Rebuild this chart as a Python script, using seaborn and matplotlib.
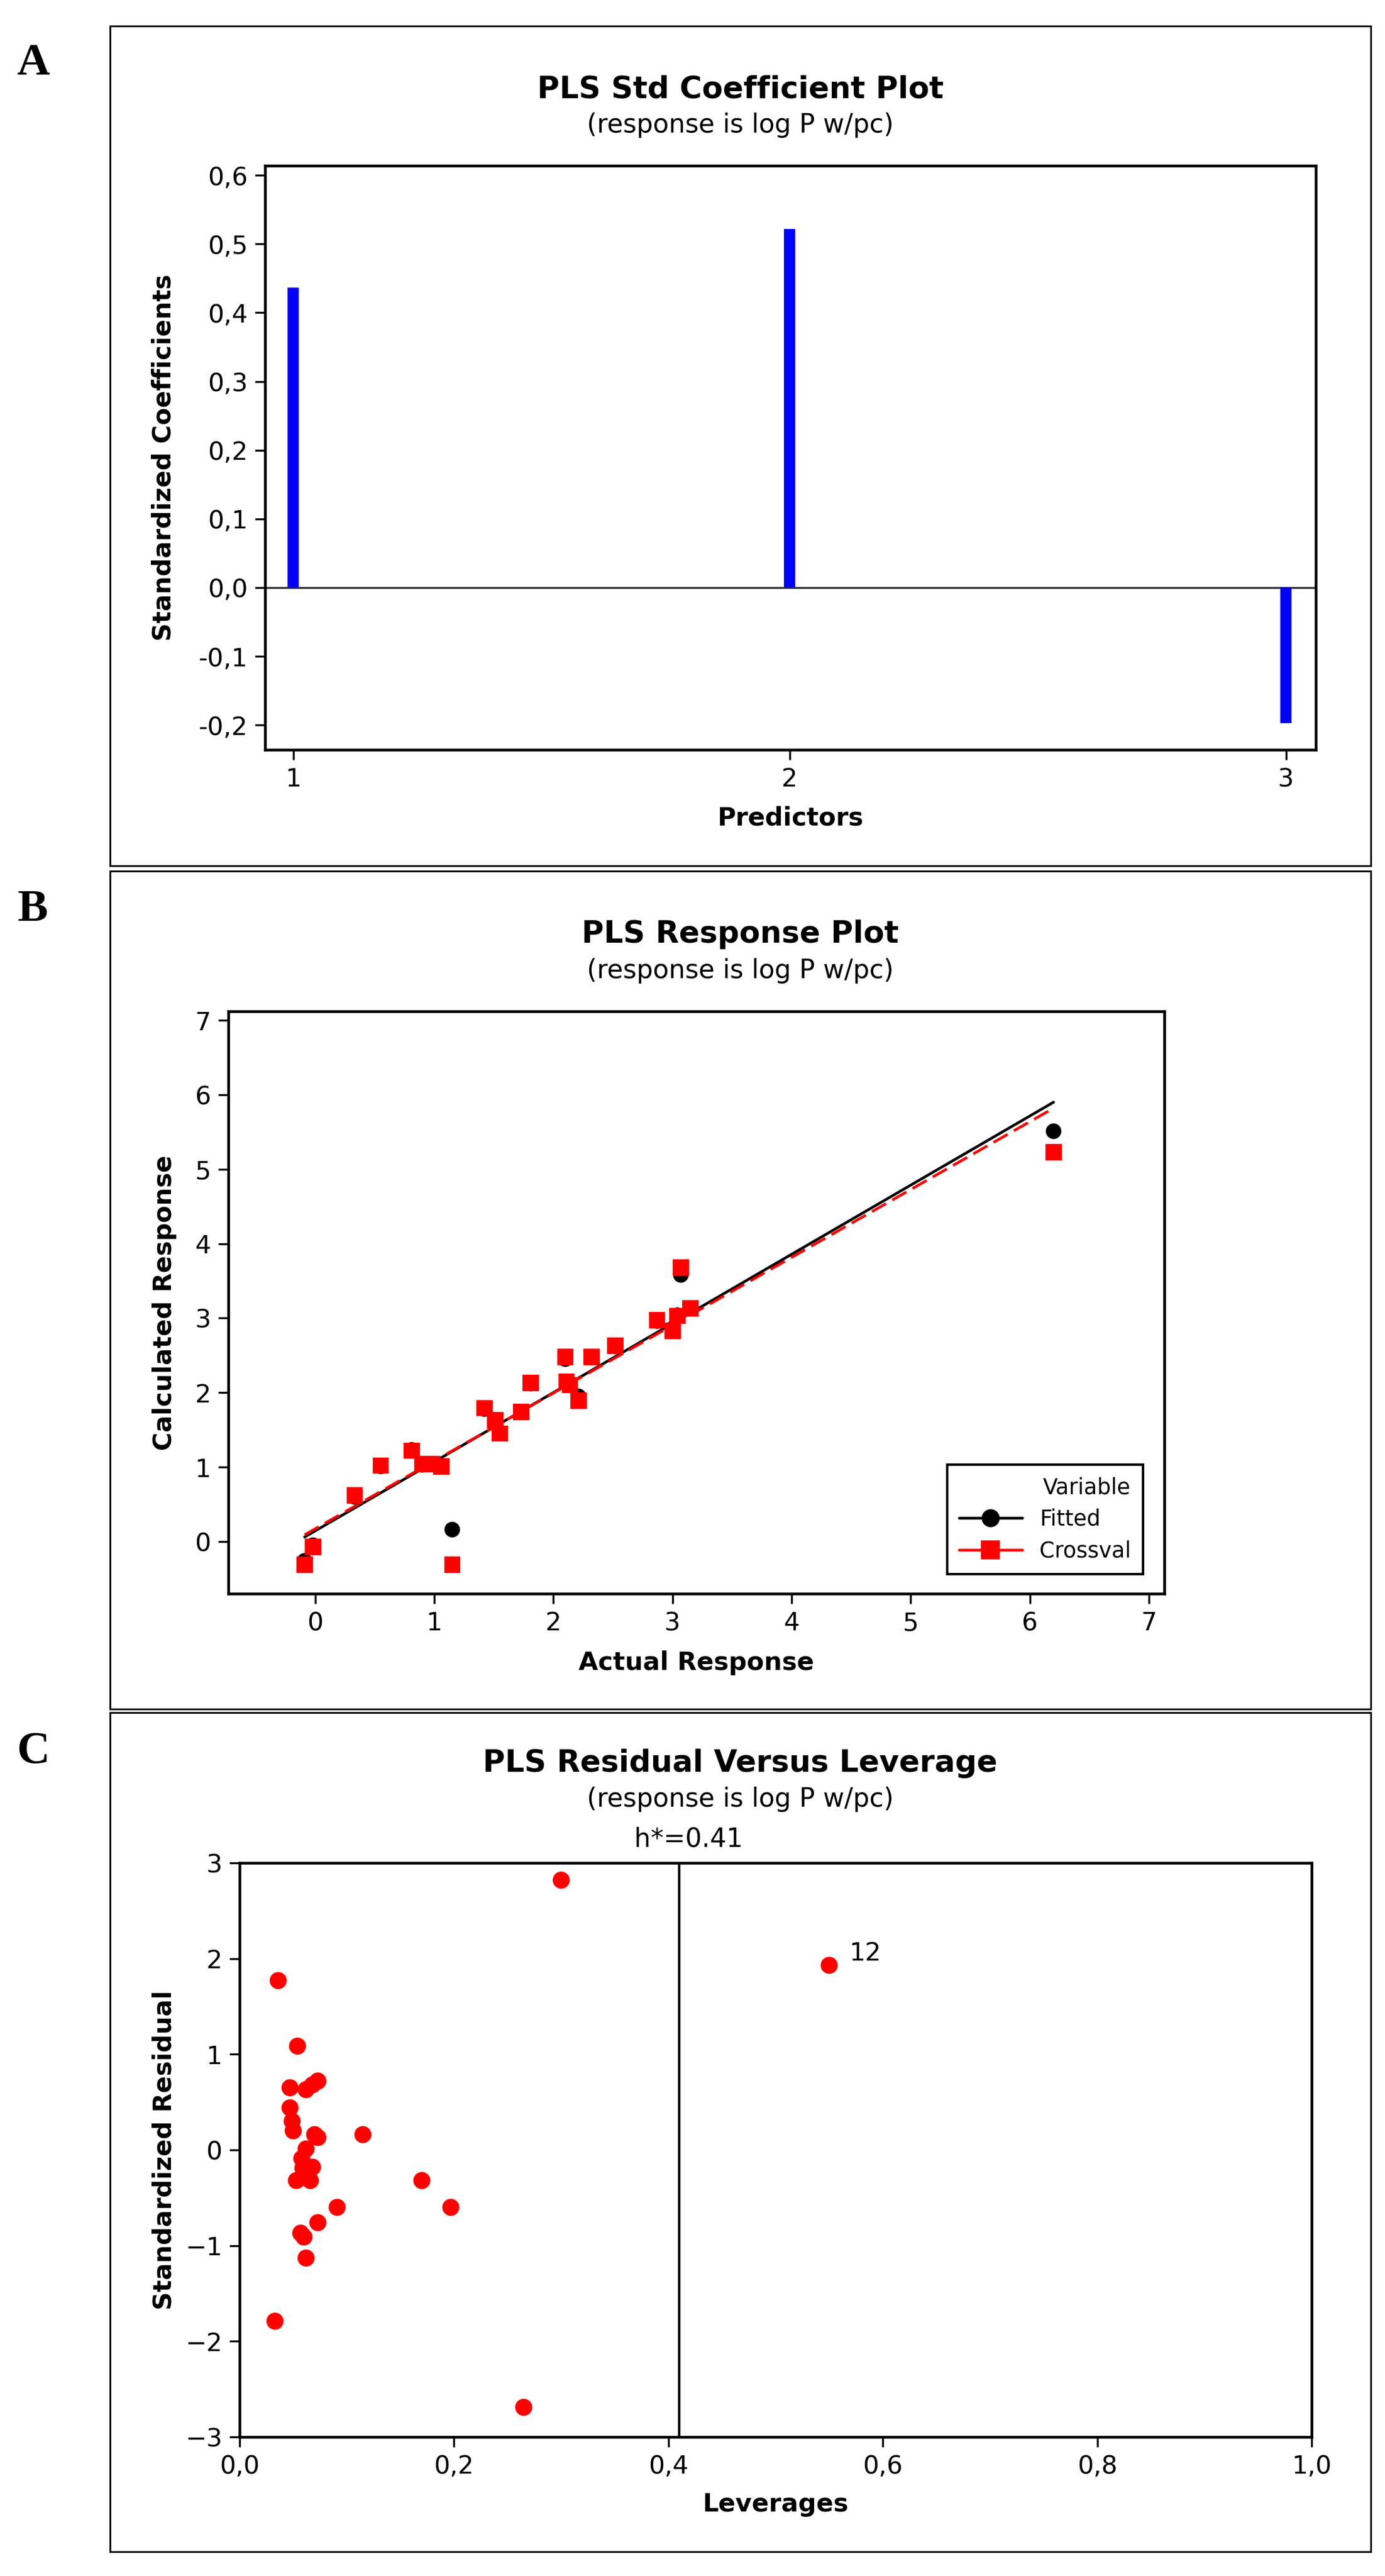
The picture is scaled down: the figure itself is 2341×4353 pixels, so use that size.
import seaborn as sns
import matplotlib.pyplot as plt
from matplotlib.lines import Line2D
from matplotlib.patches import Rectangle
from matplotlib.transforms import blended_transform_factory

# ---- panel A: PLS standardized coefficients
predictors = [1, 2, 3]
std_coefficients = [0.437, 0.522, -0.197]
coef_ticks = [-0.2, -0.1, 0.0, 0.1, 0.2, 0.3, 0.4, 0.5, 0.6]
coef_tick_labels = ["-0,2", "-0,1", "0,0", "0,1", "0,2", "0,3", "0,4", "0,5", "0,6"]

# ---- panel B: PLS response plot
actual_response = [-0.09, -0.02, 0.33, 0.55, 0.81, 0.90, 0.98, 1.06, 1.15, 1.42, 1.51, 1.55, 1.73,
                   1.81, 2.10, 2.11, 2.14, 2.21, 2.32, 2.52, 2.87, 3.00, 3.04, 3.07, 3.15, 6.20]
fitted_response = [-0.26, -0.05, 0.60, 1.01, 1.23, 1.03, 1.04, 1.02, 0.16, 1.78, 1.62, 1.46, 1.74,
                   2.12, 2.45, 2.15, 2.12, 1.95, 2.47, 2.62, 2.96, 2.86, 3.04, 3.58, 3.13, 5.51]
crossval_response = [-0.31, -0.07, 0.62, 1.02, 1.22, 1.04, 1.04, 1.01, -0.31, 1.79, 1.63, 1.45, 1.74,
                     2.13, 2.48, 2.15, 2.10, 1.89, 2.48, 2.63, 2.97, 2.83, 3.03, 3.68, 3.13, 5.23]
fit_line_x = [-0.09, 6.20]
fitted_line_y = [0.06, 5.90]
crossval_line_y = [0.09, 5.82]
response_ticks = [0, 1, 2, 3, 4, 5, 6, 7]

# ---- panel C: residual versus leverage
leverages = [0.300, 0.036, 0.054, 0.047, 0.062, 0.068, 0.073, 0.047, 0.049, 0.050, 0.070, 0.073,
             0.115, 0.062, 0.058, 0.059, 0.068, 0.053, 0.066, 0.170, 0.091, 0.197, 0.073, 0.057,
             0.060, 0.062, 0.033, 0.265, 0.550]
std_residuals = [2.82, 1.77, 1.085, 0.65, 0.63, 0.68, 0.72, 0.44, 0.30, 0.20, 0.16, 0.13,
                 0.16, 0.01, -0.09, -0.19, -0.18, -0.32, -0.32, -0.32, -0.60, -0.60, -0.76, -0.87,
                 -0.91, -1.13, -1.79, -2.69, 1.93]
h_star = 0.41
leverage_ticks = [0.0, 0.2, 0.4, 0.6, 0.8, 1.0]
leverage_tick_labels = ["0,0", "0,2", "0,4", "0,6", "0,8", "1,0"]
residual_ticks = [-3, -2, -1, 0, 1, 2, 3]
outlier_name = "12"
outlier_idx = 28

W, H = 2341, 4353
DPI = 300

sns.set_style("ticks")
plt.rcParams['font.family'] = ['DejaVu Sans']
# minitab output is plain black text
plt.rcParams['text.color'] = 'black'
plt.rcParams['axes.labelcolor'] = 'black'
plt.rcParams['xtick.color'] = 'black'
plt.rcParams['ytick.color'] = 'black'

fig = plt.figure(figsize=(W / DPI, H / DPI), dpi=DPI)


def box(left, top, right, bottom):
    # pixel box -> figure fraction rect
    return [left / W, 1 - bottom / H, (right - left) / W, (bottom - top) / H]


def style_axes(ax):
    for s in ax.spines.values():
        s.set_visible(True)
        s.set_linewidth(1.1)
        s.set_color('black')
    ax.tick_params(direction='out', length=4, width=0.8, labelsize=10.2, pad=3,
                   colors='black', top=False, right=False)


def panel_text(letter, x, baseline, title, title_base, sub_base):
    fig.text(x / W, 1 - baseline / H, letter, family='Liberation Serif', weight='bold',
             fontsize=18.5, ha='left', va='baseline')
    fig.text(1251 / W, 1 - title_base / H, title, weight='bold', fontsize=12.3,
             ha='center', va='baseline')
    fig.text(1251 / W, 1 - sub_base / H, "(response is log P w/pc)", fontsize=10.5,
             ha='center', va='baseline')


# outer frames round each panel
for top, bottom in [(44, 1463), (1472, 2888), (2894, 4312)]:
    r = box(186, top, 2317, bottom)
    fig.add_artist(Rectangle((r[0], r[1]), r[2], r[3], transform=fig.transFigure,
                             fill=False, lw=0.7, ec='black'))

# ================= A
axA = fig.add_axes(box(448, 280, 2224, 1267))
axA.axhline(0, color='#333333', lw=0.8, zorder=1)
sns.barplot(x=predictors, y=std_coefficients, native_scale=True, width=0.0223,
            color='#0000ff', saturation=1, linewidth=0, errorbar=None, ax=axA, zorder=2)
axA.set_xlim(0.943, 3.06)
axA.set_ylim(-0.236, 0.614)
axA.set_xticks(predictors)
axA.set_xticklabels([str(p) for p in predictors])
axA.set_yticks(coef_ticks)
axA.set_yticklabels(coef_tick_labels)
style_axes(axA)
axA.set_xlabel("Predictors", fontweight='bold', fontsize=10.2, va='baseline')
axA.xaxis.set_label_coords(0.5, -0.1287)
axA.set_ylabel("Standardized Coefficients", fontweight='bold', fontsize=10.2, va='center')
axA.yaxis.set_label_coords(-0.0963, 0.5)
panel_text("A", 28, 126, "PLS Std Coefficient Plot", 166, 224)

# ================= B
axB = fig.add_axes(box(386, 1709, 1968, 2693))
sns.lineplot(x=fit_line_x, y=fitted_line_y, color='black', lw=1.1, ax=axB, zorder=2)
sns.lineplot(x=fit_line_x, y=crossval_line_y, color='#ff0000', lw=1.1, ax=axB, zorder=2,
             dashes=False)
axB.lines[-1].set_dashes((6, 2.6))
sns.scatterplot(x=actual_response, y=fitted_response, color='black', marker='o', s=40,
                edgecolor='none', ax=axB, zorder=3, legend=False)
sns.scatterplot(x=actual_response, y=crossval_response, color='#ff0000', marker='s', s=44,
                edgecolor='none', ax=axB, zorder=4, legend=False)
axB.set_xlim(-0.73, 7.13)
axB.set_ylim(-0.70, 7.12)
axB.set_xticks(response_ticks)
axB.set_yticks(response_ticks)
style_axes(axB)
axB.set_xlabel("Actual Response", fontweight='bold', fontsize=10.2, va='baseline')
axB.xaxis.set_label_coords(0.5, -0.1311)
axB.set_ylabel("Calculated Response", fontweight='bold', fontsize=10.2, va='center')
axB.yaxis.set_label_coords(-0.0683, 0.5)

handles = [Line2D([], [], color='black', lw=1.1, marker='o', markersize=6.3),
           Line2D([], [], color='#ff0000', lw=1.1, marker='s', markersize=6.6)]
leg = axB.legend(handles, ["Fitted", "Crossval"], title="Variable", loc='lower right',
                 bbox_to_anchor=(0.977, 0.034), borderaxespad=0, frameon=True, fancybox=False,
                 edgecolor='black', framealpha=1, fontsize=8.8, title_fontsize=8.8,
                 alignment='right', handlelength=2.9, borderpad=0.55, labelspacing=0.45)
leg.get_frame().set_linewidth(1.0)
panel_text("B", 30, 1556, "PLS Response Plot", 1593, 1653)

# ================= C
axC = fig.add_axes(box(405, 3148, 2217, 4118))
axC.axvline(h_star, color='black', lw=1.0, zorder=1)
sns.scatterplot(x=leverages, y=std_residuals, color='#ff0000', marker='o', s=48,
                edgecolor='none', ax=axC, zorder=3, legend=False)
axC.annotate(outlier_name, xy=(leverages[outlier_idx], std_residuals[outlier_idx]),
             xytext=(8.2, 1.9), textcoords='offset points', fontsize=10.2,
             ha='left', va='baseline')
trans = blended_transform_factory(axC.transData, axC.transAxes)
axC.annotate(f"h*={h_star}", xy=(h_star, 1.0), xycoords=trans, xytext=(3.8, 6.7),
             textcoords='offset points', fontsize=10.5, ha='center', va='baseline')
axC.set_xlim(0, 1.0)
axC.set_ylim(-3, 3)
axC.set_xticks(leverage_ticks)
axC.set_xticklabels(leverage_tick_labels)
axC.set_yticks(residual_ticks)
style_axes(axC)
axC.set_xlabel("Leverages", fontweight='bold', fontsize=10.2, va='baseline')
axC.xaxis.set_label_coords(0.5, -0.1299)
axC.set_ylabel("Standardized Residual", fontweight='bold', fontsize=10.2, va='center')
axC.yaxis.set_label_coords(-0.0701, 0.5)
panel_text("C", 28, 2979, "PLS Residual Versus Leverage", 2994, 3053)

fig.savefig("out.png", dpi=DPI)
